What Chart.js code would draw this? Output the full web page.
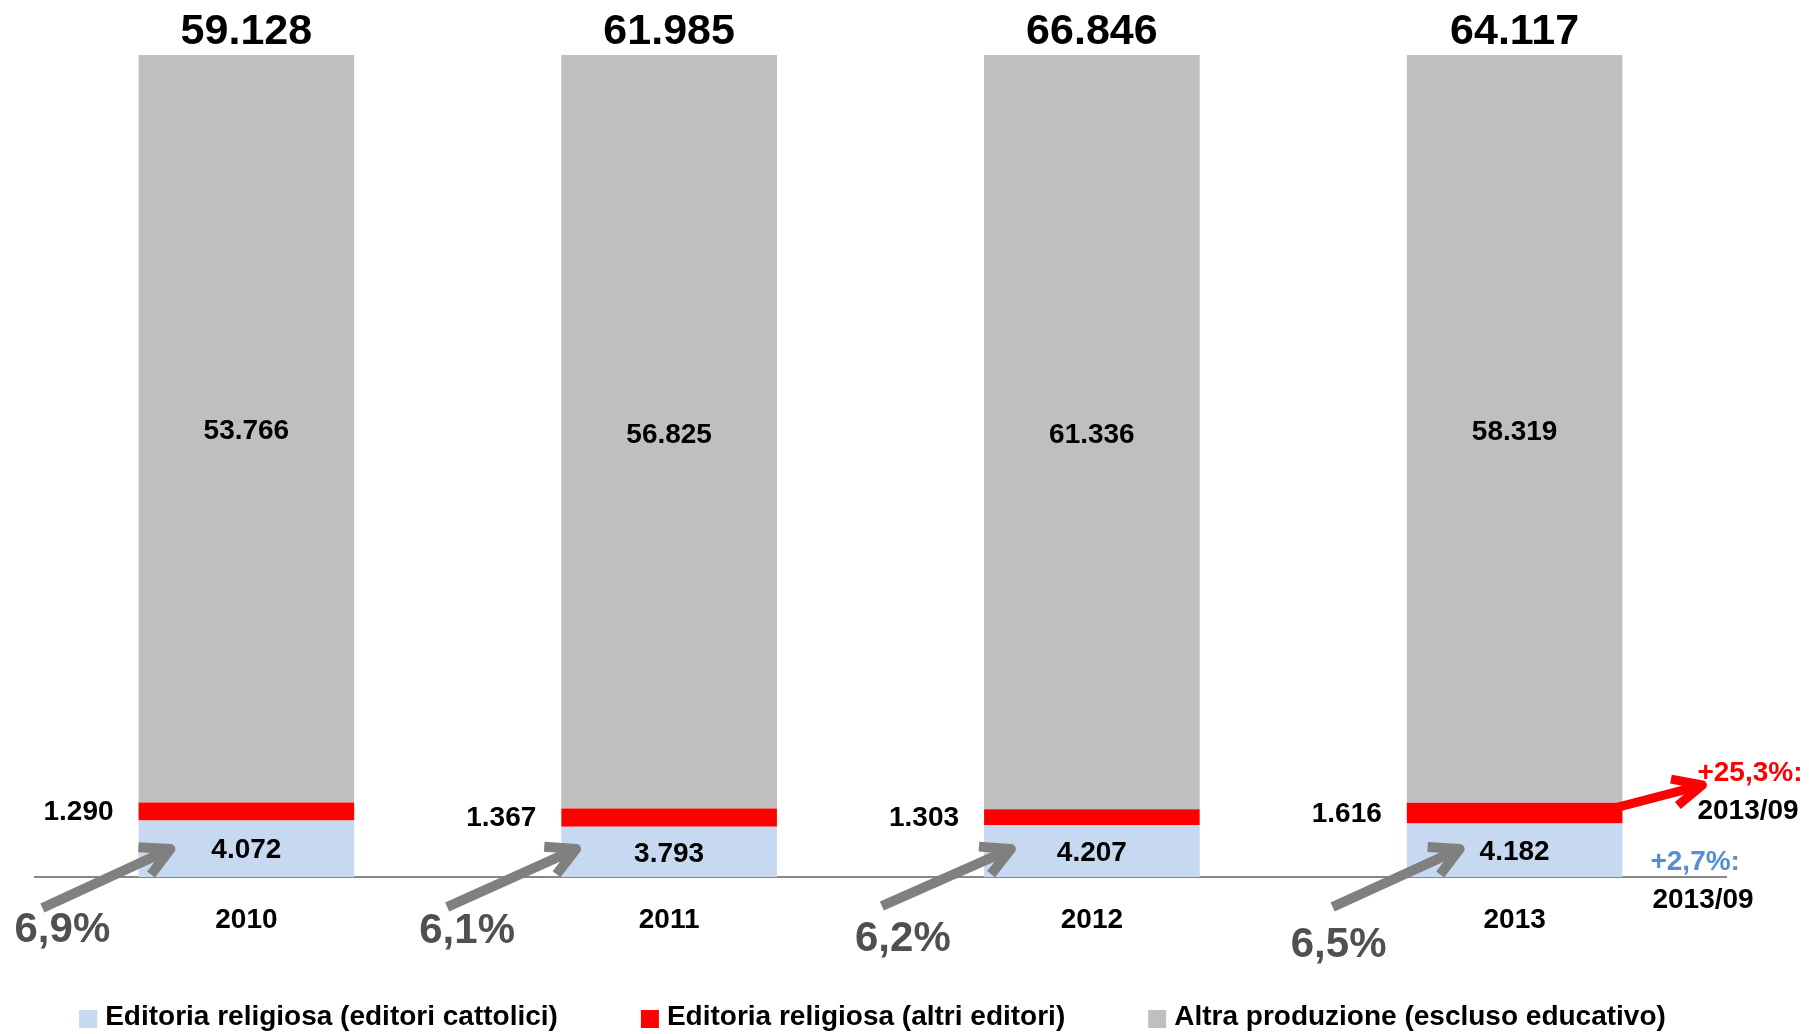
<!DOCTYPE html>
<html>
<head>
<meta charset="utf-8">
<script src="https://cdn.jsdelivr.net/npm/chart.js@4.4.0/dist/chart.umd.min.js"></script>
<style>
  html, body { margin: 0; padding: 0; background: #fff; }
  #wrap { width: 1809px; height: 1034px; }
</style>
</head>
<body>
<div id="wrap"><canvas id="myChart"></canvas></div>
<script>
const years = ['2010', '2011', '2012', '2013']
const cattolici = [4072, 3793, 4207, 4182]
const altriEditori = [1290, 1367, 1303, 1616]
const altraProduzione = [53766, 56825, 61336, 58319]
const totali = [59128, 61985, 66846, 64117]
const quoteCattolici = ['6,9%', '6,1%', '6,2%', '6,5%']
const seriesNames = ['Editoria religiosa (editori cattolici)', 'Editoria religiosa (altri editori)', 'Altra produzione (escluso educativo)']
const varAltri = '+25,3%:'
const varCattolici = '+2,7%:'
const periodo = '2013/09'

const FONT = '"Liberation Sans", Arial, sans-serif'
const colors = ['#C6D9F1', '#FF0000', '#BFBFBF']

// offsets of the grey arrows / percentages, from category centre and baseline
const arrowPos = [
  { tail: [-204, 31], tip: [-76, -28], text: [-184, 53] },
  { tail: [-222, 30], tip: [-93, -28], text: [-202, 54] },
  { tail: [-210, 29], tip: [-81, -28], text: [-189, 62] },
  { tail: [-182, 30], tip: [-55, -28], text: [-176, 68] }
]

function fmt(n) { return String(n).replace(/\B(?=(\d{3})+(?!\d))/g, '.') }
// 100% stacked: every bar shown as share of its year total
function share(arr) { return arr.map((v, i) => v / totali[i] * 100) }

function arrow(ctx, x0, y0, x1, y1, color, width, head, spread) {
  const ang = Math.atan2(y1 - y0, x1 - x0)
  ctx.strokeStyle = color
  ctx.lineWidth = width
  ctx.lineCap = 'butt'
  ctx.lineJoin = 'round'
  ctx.beginPath()
  ctx.moveTo(x0, y0)
  ctx.lineTo(x1 - Math.cos(ang) * 3, y1 - Math.sin(ang) * 3)
  ctx.stroke()
  ctx.beginPath()
  ctx.moveTo(x1 - head * Math.cos(ang - spread), y1 - head * Math.sin(ang - spread))
  ctx.lineTo(x1, y1)
  ctx.lineTo(x1 - head * Math.cos(ang + spread), y1 - head * Math.sin(ang + spread))
  ctx.stroke()
}

const labelsPlugin = {
  id: 'labelsPlugin',
  afterDatasetsDraw(chart) {
    const ctx = chart.ctx
    const base = chart.scales.y.getPixelForValue(0)
    const blue = chart.getDatasetMeta(0).data
    const red = chart.getDatasetMeta(1).data
    const grey = chart.getDatasetMeta(2).data
    ctx.save()
    ctx.textBaseline = 'middle'
    ctx.fillStyle = '#000'
    ctx.font = 'bold 28px ' + FONT
    ctx.textAlign = 'center'
    grey.forEach((b, i) => ctx.fillText(fmt(altraProduzione[i]), b.x, (b.y + b.base) / 2 + 3))
    blue.forEach((b, i) => ctx.fillText(fmt(cattolici[i]), b.x, (b.y + b.base) / 2 + 2))
    ctx.textAlign = 'right'
    red.forEach((b, i) => ctx.fillText(fmt(altriEditori[i]), b.x - b.width / 2 - 25, (b.y + b.base) / 2 + 1))
    ctx.textAlign = 'center'
    ctx.font = 'bold 43px ' + FONT
    grey.forEach((b, i) => ctx.fillText(fmt(totali[i]), b.x, b.y - 23))

    // grey arrows with share of catholic publishers
    blue.forEach((b, i) => {
      const p = arrowPos[i]
      arrow(ctx, b.x + p.tail[0], base + p.tail[1], b.x + p.tip[0], base + p.tip[1], '#808080', 10, 32, 0.49)
      ctx.fillStyle = '#505050'
      ctx.font = 'bold 42px ' + FONT
      ctx.textAlign = 'center'
      ctx.fillText(quoteCattolici[i], b.x + p.text[0], base + p.text[1])
    })

    // 2013/09 changes
    const last = red.length - 1
    const r = red[last]
    const right = r.x + r.width / 2
    const ry = (r.y + r.base) / 2
    arrow(ctx, right - 12, ry - 4, right + 80, ry - 28, '#FF0000', 9, 32, 0.44)
    ctx.font = 'bold 28px ' + FONT
    ctx.textAlign = 'left'
    ctx.fillStyle = '#FF0000'
    ctx.fillText(varAltri, right + 75, base - 104)
    ctx.fillStyle = '#000'
    ctx.fillText(periodo, right + 75, base - 66)
    ctx.fillStyle = '#558ED5'
    ctx.fillText(varCattolici, right + 28, base - 15)
    ctx.fillStyle = '#000'
    ctx.fillText(periodo, right + 30, base + 23)
    ctx.restore()
  },
  afterDraw(chart) {
    // legend row under the axis
    const ctx = chart.ctx
    const area = chart.chartArea
    ctx.save()
    ctx.font = 'bold 28px ' + FONT
    ctx.textBaseline = 'middle'
    ctx.textAlign = 'left'
    const box = 18, gap = 8, between = 83
    const widths = chart.data.datasets.map(d => box + gap + ctx.measureText(d.label).width)
    const total = widths.reduce((a, w) => a + w, 0) + between * (widths.length - 1)
    let x = (area.left + area.right) / 2 - 8 - total / 2
    const yc = 1017
    chart.data.datasets.forEach((d, i) => {
      ctx.fillStyle = d.backgroundColor
      ctx.fillRect(x, yc - 7, box, box)
      ctx.fillStyle = '#000'
      ctx.fillText(d.label, x + box + gap, yc)
      x += widths[i] + between
    })
    ctx.restore()
  }
}

new Chart(document.getElementById('myChart'), {
  type: 'bar',
  data: {
    labels: years,
    datasets: [
      { label: seriesNames[0], data: share(cattolici), backgroundColor: colors[0] },
      { label: seriesNames[1], data: share(altriEditori), backgroundColor: colors[1] },
      { label: seriesNames[2], data: share(altraProduzione), backgroundColor: colors[2] }
    ]
  },
  options: {
    responsive: true,
    maintainAspectRatio: false,
    animation: false,
    devicePixelRatio: 1,
    categoryPercentage: 1,
    barPercentage: 0.51,
    layout: { padding: { left: 35, right: 83, top: 55, bottom: 0 } },
    plugins: {
      legend: { display: false },
      tooltip: { enabled: false }
    },
    scales: {
      x: {
        stacked: true,
        grid: { display: false, drawTicks: false },
        border: { display: true, color: '#878787', width: 2 },
        ticks: { color: '#000', padding: 26, font: { family: FONT, size: 28, weight: 'bold' } },
        afterFit(scale) { scale.height = 157 }
      },
      y: {
        stacked: true,
        display: false,
        min: 0,
        max: 100
      }
    }
  },
  plugins: [labelsPlugin]
})
</script>
</body>
</html>
